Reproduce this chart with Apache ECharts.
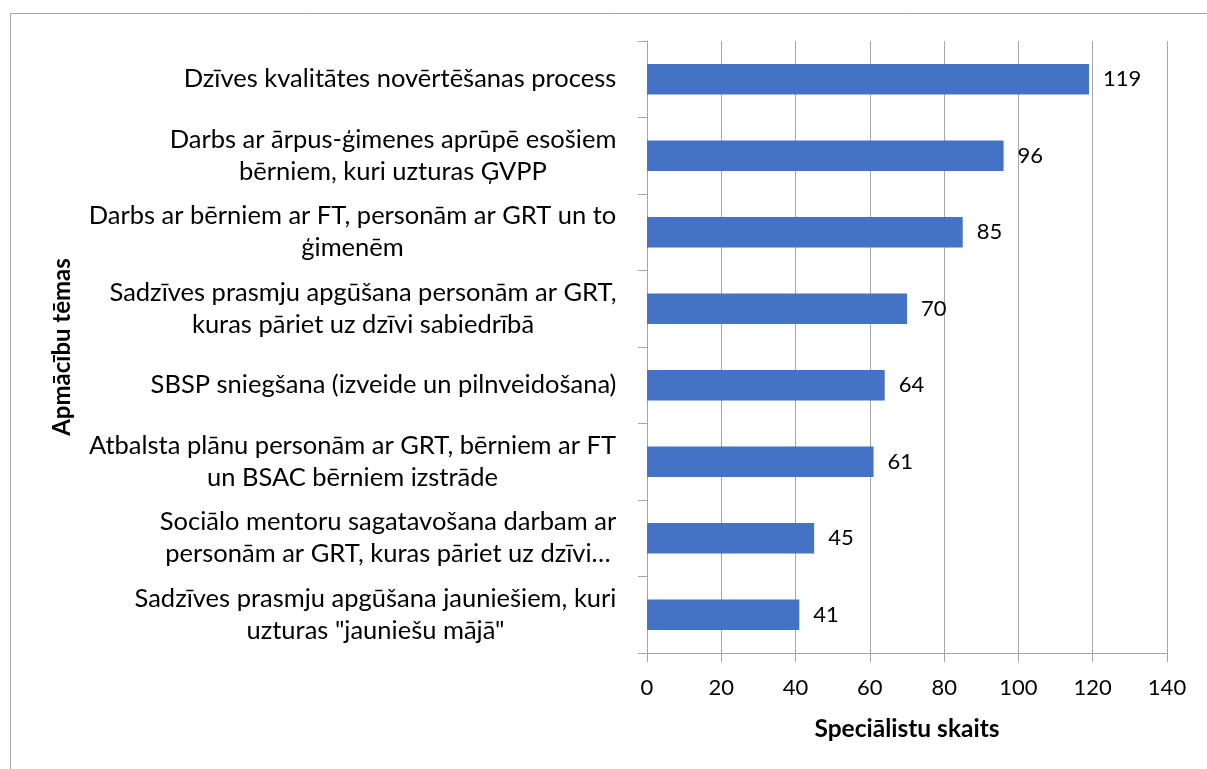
<!DOCTYPE html>
<html><head><meta charset="utf-8">
<script src="https://cdn.jsdelivr.net/npm/echarts@6/dist/echarts.min.js"></script>
<style>html,body{margin:0;padding:0;background:#fff}#c{width:1207px;height:769px}</style>
</head><body><div id="c"></div>
<script>
const categories = [
  "Dzīves kvalitātes novērtēšanas process",
  "Darbs ar ārpus-ģimenes aprūpē esošiem\nbērniem, kuri uzturas ĢVPP",
  "Darbs ar bērniem ar FT, personām ar GRT un to\nģimenēm",
  "Sadzīves prasmju apgūšana personām ar GRT,\nkuras pāriet uz dzīvi sabiedrībā",
  "SBSP sniegšana (izveide un pilnveidošana)",
  "Atbalsta plānu personām ar GRT, bērniem ar FT\nun BSAC bērniem izstrāde",
  "Sociālo mentoru sagatavošana darbam ar\npersonām ar GRT, kuras pāriet uz dzīvi…",
  "Sadzīves prasmju apgūšana jauniešiem, kuri\nuzturas \"jauniešu mājā\""
];
const values = [119, 96, 85, 70, 64, 61, 45, 41];
const xAxisTitle = "Speciālistu skaits";
const yAxisTitle = "Apmācību tēmas";

const FONT = 'Lato';
const FS = 22;
const CFS = 25.5;
const cv = document.createElement('canvas').getContext('2d');
cv.font = CFS + 'px ' + FONT;
const rich = {};
categories.forEach((c, i) => {
  const w = Math.max(...c.split('\n').map(l => cv.measureText(l).width));
  rich['c' + i] = { width: Math.ceil(w) + 1, align: 'center', fontSize: CFS, fontFamily: FONT, color: '#000', lineHeight: 32 };
});

const chart = echarts.init(document.getElementById('c'));
chart.setOption({
  animation: false,
  backgroundColor: '#fff',
  graphic: [{ type: 'rect', left: 8, top: 11, shape: { width: 1400, height: 900 }, style: { fill: 'none', stroke: '#a6a6a6', lineWidth: 1 }, silent: true, z: -1 }],
  grid: { left: 647, right: 40, top: 41, bottom: 116, containLabel: false },
  xAxis: {
    type: 'value', min: 0, max: 140, interval: 20,
    name: xAxisTitle, nameLocation: 'middle', nameGap: 64,
    nameTextStyle: { fontFamily: FONT, fontSize: 24.5, fontWeight: 'bold', color: '#000' },
    axisLine: { show: true, lineStyle: { color: '#a6a6a6', width: 1 } },
    axisTick: { show: true, length: 9, lineStyle: { color: '#a6a6a6' } },
    axisLabel: { fontFamily: FONT, fontSize: FS, color: '#000', margin: 24 },
    splitLine: { show: true, lineStyle: { color: '#a6a6a6', width: 1 } }
  },
  yAxis: {
    type: 'category', data: categories, inverse: true,
    name: yAxisTitle, nameLocation: 'middle', nameGap: 573, nameRotate: 90,
    nameTextStyle: { fontFamily: FONT, fontSize: 24, fontWeight: 'bold', color: '#000' },
    axisLine: { show: true, lineStyle: { color: '#a6a6a6', width: 1 } },
    axisTick: { show: true, length: 9, alignWithLabel: false, lineStyle: { color: '#a6a6a6' } },
    axisLabel: {
      margin: 30, align: 'right',
      formatter: (v, i) => v.split('\n').map(l => '{c' + i + '|' + l + '}').join('\n'),
      rich: rich
    },
    splitLine: { show: false }
  },
  series: [{
    type: 'bar', data: values, barCategoryGap: '60%',
    itemStyle: { color: '#4472C4' },
    label: { show: true, position: 'right', distance: 14, fontFamily: FONT, fontSize: FS, color: '#000' }
  }]
});
</script></body></html>
